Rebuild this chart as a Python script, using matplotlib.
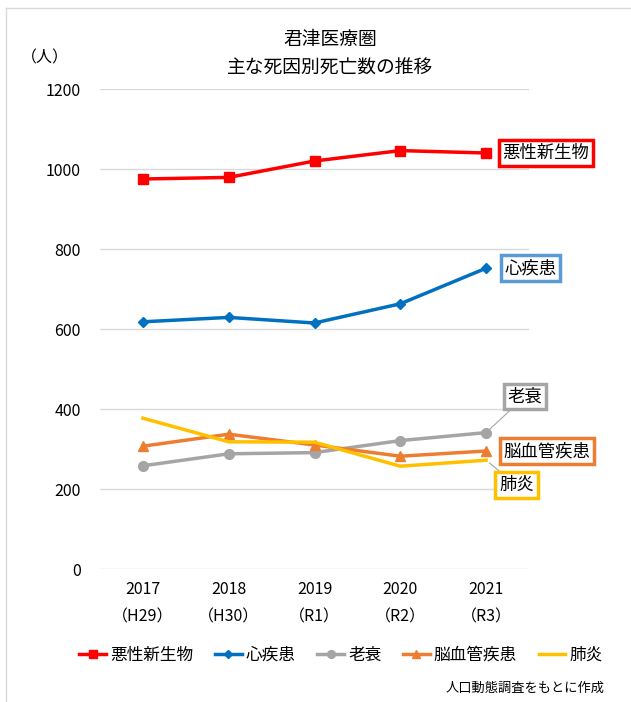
import matplotlib
matplotlib.use("Agg")
import matplotlib.pyplot as plt
from matplotlib.lines import Line2D

plt.rcParams['font.family'] = ['Noto Sans CJK JP', 'DejaVu Sans']

years = ["2017\n（H29）", "2018\n（H30）", "2019\n（R1）", "2020\n（R2）", "2021\n（R3）"]
names = ["悪性新生物", "心疾患", "老衰", "脳血管疾患", "肺炎"]
akusei = [975, 979, 1020, 1046, 1040]
shin = [618, 629, 615, 663, 752]
rousui = [258, 288, 291, 321, 341]
noukekkan = [307, 337, 310, 282, 295]
haien = [377, 318, 317, 257, 272]

series = [akusei, shin, rousui, noukekkan, haien]
line_colors = ["#FF0000", "#0070C0", "#A5A5A5", "#ED7D31", "#FFC000"]
box_colors = ["#FF0000", "#5B9BD5", "#A5A5A5", "#ED7D31", "#FFC000"]
markers = ["s", "D", "o", "^", None]
msizes = [7, 5, 7, 7, 0]
# label offsets (points) from last point
offsets = [(43, 0), (32, 0), (28, 26), (44, 0), (22, -18)]

fig = plt.figure(figsize=(6.31, 7.02), dpi=100)
ax = fig.add_axes([100/631, 133/702, 429/631, 480/702])

x = list(range(len(years)))
for s, c, m, ms in zip(series, line_colors, markers, msizes):
    ax.plot(x, s, color=c, lw=2.5, marker=m, markersize=ms, zorder=3)

for s, n, bc, off in zip(series, names, box_colors, offsets):
    leader = None
    if off[1] != 0:
        leader = dict(arrowstyle='-', color='#A5A5A5', lw=0.8, shrinkA=0, shrinkB=3)
    ax.annotate(n, xy=(x[-1], s[-1]), xytext=off, textcoords='offset points',
                ha='center', va='center', fontsize=12.5, annotation_clip=False,
                bbox=dict(boxstyle='square,pad=0.22', fc='white', ec=bc, lw=2.5),
                arrowprops=leader, zorder=5)

ax.set_xlim(-0.5, 4.5)
ax.set_ylim(0, 1200)
ax.set_yticks(range(0, 1201, 200))
ax.set_xticks(x)
ax.set_xticklabels(years, fontsize=11.5, linespacing=1.8)
ax.tick_params(axis='y', labelsize=11.5, length=0, pad=14)
ax.tick_params(axis='x', length=0, pad=9)
ax.grid(axis='y', color='#D9D9D9', lw=1)
ax.set_axisbelow(True)
for sp in ax.spines.values():
    sp.set_visible(False)

fig.text(330/631, 1 - 40/702, "君津医療圏", ha='center', va='center', fontsize=13.5)
fig.text(330/631, 1 - 68/702, "主な死因別死亡数の推移", ha='center', va='center', fontsize=13.5)
fig.text(45/631, 1 - 58/702, "（人）", ha='center', va='center', fontsize=11.5)
fig.text(605/631, 1 - 688/702, "人口動態調査をもとに作成", ha='right', va='center', fontsize=9.5)

handles = [Line2D([], [], color=c, lw=2.5, marker=m, markersize=ms * 0.8)
           for c, m, ms in zip(line_colors, markers, msizes)]
fig.legend(handles, names, loc='center', bbox_to_anchor=(341/631, 1 - 655/702),
           ncol=5, frameon=False, fontsize=12, handlelength=1.6, handletextpad=0.25,
           columnspacing=1.3)

# outer chart border (partially visible)
fig.add_artist(Line2D([6/631, 1], [1 - 8/702, 1 - 8/702], transform=fig.transFigure, color='#D9D9D9', lw=1))
fig.add_artist(Line2D([6/631, 6/631], [0, 1 - 8/702], transform=fig.transFigure, color='#D9D9D9', lw=1))

fig.savefig("out.png", dpi=100)
